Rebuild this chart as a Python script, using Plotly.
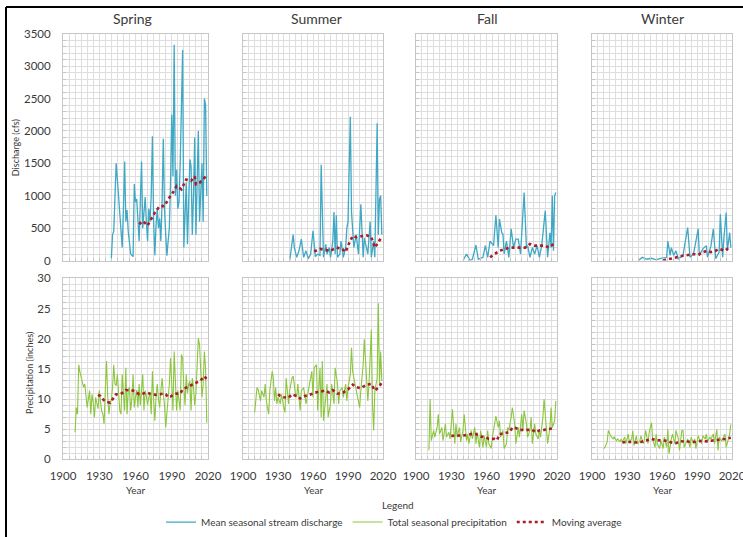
import plotly.graph_objects as go

SEASONS = ["Spring", "Summer", "Fall", "Winter"]
YEAR_TICKS = [1900, 1930, 1960, 1990, 2020]

# ---- Mean seasonal stream discharge (cfs) ----
spring_q_years = list(range(1940, 2020))
spring_q = [30, 400, 450, 1000, 1500, 1250, 1000, 700, 400, 200,
            800, 1530, 600, 780, 450, 250, 100, 80, 60, 1180,
            900, 950, 500, 300, 900, 1530, 500, 700, 980, 600,
            300, 800, 600, 1000, 1920, 600, 80, 550, 800, 500,
            650, 300, 900, 1880, 800, 400, 75, 300, 500, 1200,
            2250, 1300, 3330, 1000, 1400, 800, 900, 1500, 2520, 3250,
            200, 900, 1200, 250, 800, 1560, 1450, 400, 1000, 1900,
            400, 1200, 2000, 600, 1000, 1500, 600, 2500, 2400, 1000]
spring_q_ma_years = [1963, 1966, 1970, 1973, 1976, 1980, 1984, 1987, 1991,
                     1994, 1998, 2002, 2006, 2009, 2010, 2013, 2016, 2019]
spring_q_ma = [560, 610, 540, 640, 740, 840, 840, 945, 1050,
               1150, 1100, 1250, 1230, 1300, 1175, 1200, 1250, 1330]

summer_q_years = [1940, 1943, 1944, 1946, 1948, 1950, 1952, 1954, 1956, 1958,
                  1960, 1962, 1964, 1966, 1967, 1969, 1971, 1972, 1974, 1975,
                  1977, 1978, 1979, 1980, 1981, 1983, 1984, 1986, 1988, 1989,
                  1990, 1992, 1993, 1995, 1997, 1999, 2001, 2003, 2004, 2005,
                  2007, 2009, 2010, 2012, 2013, 2015, 2016, 2017, 2018, 2019]
summer_q = [0, 400, 200, 50, 150, 330, 50, 150, 30, 100,
            460, 60, 100, 80, 1480, 50, 250, 100, 200, 50,
            300, 750, 100, 700, 50, 100, 300, 50, 200, 500,
            600, 2220, 750, 200, 400, 100, 870, 50, 350, 250,
            100, 600, 50, 300, 50, 2120, 400, 950, 1000, 400]
summer_q_ma_years = [1961, 1966, 1975, 1980, 1985, 1988, 1990, 1994,
                     1997, 2001, 2006, 2010, 2013, 2016, 2019]
summer_q_ma = [140, 180, 150, 200, 180, 130, 230, 380,
               360, 370, 390, 360, 200, 280, 370]

fall_q_years = [1940, 1943, 1946, 1948, 1951, 1953, 1957, 1959, 1961, 1963,
                1966, 1968, 1970, 1971, 1973, 1974, 1975, 1977, 1979, 1981,
                1983, 1985, 1987, 1989, 1992, 1994, 1995, 1997, 1999, 2001,
                2003, 2005, 2007, 2010, 2012, 2014, 2015, 2016, 2017, 2018, 2019]
fall_q = [0, 100, 0, 20, 240, 20, 50, 230, 50, 300,
          230, 700, 200, 640, 430, 410, 100, 300, 50, 490,
          200, 330, 330, 100, 1050, 200, 230, 50, 200, 100,
          230, 50, 230, 770, 50, 430, 200, 1000, 150, 1000, 1050]
fall_q_ma_years = [1963, 1967, 1971, 1976, 1980, 1984, 1988, 1993,
                   1997, 2001, 2005, 2010, 2013, 2017, 2019]
fall_q_ma = [50, 100, 150, 180, 200, 200, 200, 200,
             255, 230, 230, 230, 200, 255, 280]

winter_q_years = [1940, 1943, 1947, 1951, 1955, 1958, 1964, 1965, 1967, 1968,
                  1970, 1972, 1974, 1978, 1982, 1984, 1987, 1991, 1992, 1995,
                  1998, 1999, 2002, 2004, 2006, 2009, 2010, 2012, 2013, 2015,
                  2016, 2018, 2019]
winter_q = [0, 50, 20, 35, 10, 30, 50, 300, 80, 200,
            80, 150, 25, 80, 510, 50, 100, 490, 80, 180,
            230, 50, 230, 490, 30, 130, 715, 50, 330, 740,
            150, 430, 200]
winter_q_ma_years = [1961, 1964, 1968, 1972, 1978, 1982, 1987, 1991,
                     1995, 1999, 2002, 2006, 2009, 2014, 2016, 2019]
winter_q_ma = [0, 15, 35, 50, 75, 85, 100, 85,
               130, 150, 130, 150, 180, 150, 180, 200]

# ---- Total seasonal precipitation (inches) ----
spring_p_years = list(range(1910, 2020))
spring_p = [4.5, 8.6, 7.5, 15.7, 14.5, 13.5, 12.5, 12.0, 12.5, 10.8,
            8.6, 10.0, 11.4, 7.5, 10.8, 9.5, 7.0, 10.3, 9.0, 8.4,
            11.4, 9.0, 8.0, 7.5, 5.9, 11.4, 16.3, 10.5, 7.5, 9.5,
            9.8, 11.9, 15.7, 12.5, 12.2, 14.1, 11.0, 8.1, 7.5, 14.1,
            11.0, 8.1, 15.2, 7.5, 11.4, 12.0, 8.1, 10.0, 14.1, 8.6,
            10.3, 11.5, 8.6, 12.5, 9.0, 11.0, 14.1, 8.1, 11.4, 10.5,
            9.0, 10.3, 11.0, 7.5, 14.6, 10.0, 6.4, 10.3, 12.5, 10.0,
            8.6, 11.4, 13.5, 11.0, 9.0, 5.3, 7.5, 9.5, 12.5, 16.8,
            11.5, 8.1, 17.9, 11.4, 8.1, 11.4, 9.5, 8.1, 17.4, 16.8,
            12.0, 9.0, 14.1, 11.0, 12.5, 13.0, 8.1, 13.5, 12.0, 9.0,
            11.0, 16.3, 20.1, 19.0, 14.0, 10.3, 12.5, 17.9, 15.0, 6.1]
spring_p_ma_years = [1929, 1931, 1933, 1935, 1939, 1941, 1944, 1947, 1950, 1952,
                     1955, 1958, 1961, 1963, 1966, 1969, 1972, 1975, 1977, 1980,
                     1983, 1985, 1987, 1989, 1991, 1994, 1997, 1999, 2002, 2005,
                     2008, 2010, 2013, 2016, 2017, 2019]
spring_p_ma = [10.7, 10.5, 10.0, 9.6, 9.4, 10.0, 10.8, 10.8, 11.1, 11.5,
               11.5, 11.4, 11.1, 10.8, 10.9, 11.1, 10.9, 10.8, 10.7, 10.8,
               10.9, 10.8, 10.3, 10.4, 10.7, 10.9, 10.9, 11.6, 11.9, 12.2,
               12.5, 12.7, 13.0, 13.5, 13.8, 13.3]

summer_p_years = [1910, 1912, 1913, 1915, 1916, 1918, 1919, 1920, 1922, 1923,
                  1925, 1926, 1927, 1928, 1929, 1930, 1932, 1933, 1935, 1936,
                  1937, 1939, 1940, 1942, 1943, 1945, 1946, 1947, 1949, 1950,
                  1952, 1953, 1954, 1956, 1957, 1959, 1960, 1961, 1963, 1964,
                  1966, 1967, 1968, 1969, 1971, 1972, 1973, 1975, 1976, 1978,
                  1979, 1981, 1982, 1983, 1985, 1986, 1988, 1989, 1990, 1992,
                  1993, 1994, 1996, 1997, 1998, 2000, 2001, 2003, 2004, 2006,
                  2007, 2008, 2010, 2011, 2012, 2013, 2015, 2016, 2017, 2018, 2019]
summer_p = [7.8, 11.9, 11.6, 9.7, 11.4, 10.3, 12.5, 9.7, 7.5, 11.4,
            14.6, 13.5, 9.7, 11.9, 9.2, 10.3, 9.2, 10.8, 8.6, 7.8,
            13.5, 9.2, 11.4, 13.5, 13.8, 10.8, 10.3, 12.5, 8.1, 11.4,
            11.9, 10.3, 9.2, 11.4, 12.5, 14.6, 10.3, 15.2, 15.7, 8.1,
            15.2, 7.0, 16.3, 6.4, 10.3, 12.5, 7.0, 9.2, 12.5, 9.2,
            15.2, 12.5, 9.2, 11.4, 11.9, 10.3, 12.5, 9.7, 11.9, 14.1,
            18.5, 14.6, 12.5, 11.4, 10.3, 8.6, 11.4, 15.7, 19.9, 12.7,
            9.7, 12.5, 21.5, 9.2, 4.8, 11.4, 13.5, 25.9, 12.5, 17.9, 13.0]
summer_p_ma_years = [1930, 1932, 1935, 1939, 1942, 1946, 1949, 1953, 1957, 1962,
                     1966, 1970, 1974, 1977, 1981, 1986, 1990, 1994, 1997, 2001,
                     2006, 2010, 2013, 2016, 2019]
summer_p_ma = [10.8, 10.5, 10.3, 10.2, 10.8, 10.5, 10.1, 10.5, 10.7, 11.1,
               11.2, 11.4, 11.1, 11.5, 10.9, 11.1, 11.6, 12.4, 12.0, 11.8,
               12.4, 12.5, 11.4, 11.9, 12.7]

fall_p_years = [1911, 1912, 1913, 1915, 1916, 1918, 1919, 1920, 1922, 1923,
                1925, 1926, 1928, 1929, 1931, 1933, 1934, 1935, 1937, 1938,
                1940, 1941, 1943, 1944, 1945, 1947, 1948, 1950, 1951, 1952,
                1954, 1955, 1957, 1958, 1960, 1961, 1962, 1964, 1965, 1967,
                1968, 1970, 1971, 1972, 1974, 1975, 1977, 1978, 1979, 1981,
                1982, 1984, 1985, 1987, 1988, 1990, 1991, 1992, 1994, 1995,
                1997, 1998, 1999, 2001, 2002, 2004, 2005, 2006, 2008, 2009,
                2011, 2012, 2014, 2015, 2016, 2018, 2019]
fall_p = [1.5, 10.0, 3.1, 4.8, 3.7, 5.3, 7.5, 4.2, 5.3, 3.1,
          5.9, 3.7, 4.5, 3.4, 8.3, 2.6, 5.9, 3.7, 5.3, 2.9,
          4.8, 7.5, 3.1, 4.2, 2.6, 4.8, 3.4, 5.3, 2.6, 4.5,
          2.0, 4.8, 2.0, 3.9, 2.0, 4.8, 2.6, 1.8, 3.7, 5.9,
          7.2, 5.3, 6.4, 3.7, 4.8, 1.8, 2.6, 5.3, 4.8, 7.0,
          8.6, 5.9, 2.6, 5.3, 3.7, 7.5, 4.8, 8.1, 5.9, 3.7,
          4.8, 7.0, 2.6, 5.9, 4.2, 3.4, 4.8, 3.7, 7.0, 10.0,
          5.3, 2.6, 5.3, 8.6, 5.3, 6.4, 9.7]
fall_p_ma_years = [1930, 1934, 1938, 1943, 1947, 1951, 1955, 1959, 1962, 1967,
                   1969, 1971, 1975, 1980, 1982, 1985, 1988, 1992, 1995, 1999,
                   2002, 2005, 2009, 2014, 2018]
fall_p_ma = [3.9, 3.9, 4.0, 4.0, 4.2, 4.2, 3.8, 3.7, 3.4, 3.4,
             3.2, 4.2, 4.3, 4.6, 5.3, 5.2, 4.9, 4.9, 5.0, 4.9,
             4.5, 4.8, 4.9, 5.0, 5.2]

winter_p_years = [1910, 1911, 1913, 1914, 1916, 1918, 1919, 1921, 1922, 1924,
                  1925, 1926, 1928, 1929, 1931, 1932, 1934, 1935, 1936, 1938,
                  1939, 1941, 1942, 1944, 1945, 1946, 1948, 1949, 1951, 1952,
                  1954, 1955, 1956, 1958, 1959, 1961, 1962, 1964, 1965, 1966,
                  1968, 1969, 1971, 1972, 1974, 1975, 1977, 1978, 1979, 1981,
                  1982, 1984, 1985, 1987, 1988, 1989, 1991, 1992, 1994, 1995,
                  1997, 1998, 1999, 2001, 2002, 2004, 2005, 2007, 2008, 2009,
                  2011, 2012, 2014, 2015, 2017, 2018, 2019]
winter_p = [1.8, 2.0, 2.9, 4.8, 3.9, 3.4, 3.7, 3.1, 3.4, 2.9,
            3.4, 2.9, 3.7, 2.6, 4.2, 2.9, 3.4, 4.8, 2.3, 3.9,
            2.6, 3.1, 3.9, 2.6, 3.4, 4.8, 2.6, 4.5, 6.1, 3.4,
            2.0, 4.2, 2.6, 1.8, 3.1, 1.8, 3.7, 2.0, 5.0, 0.9,
            3.4, 4.2, 2.6, 4.8, 3.4, 1.5, 4.8, 4.8, 2.0, 3.1,
            3.4, 2.0, 3.7, 2.6, 3.4, 1.8, 3.9, 3.4, 2.6, 3.9,
            3.4, 4.2, 2.9, 3.7, 3.4, 4.2, 2.6, 5.0, 1.5, 3.7,
            3.1, 3.4, 4.2, 2.0, 3.4, 4.2, 5.8]
winter_p_ma_years = [1926, 1929, 1934, 1938, 1942, 1946, 1951, 1955, 1959, 1964,
                     1968, 1972, 1976, 1981, 1985, 1989, 1994, 1998, 2002, 2007,
                     2011, 2015, 2019]
winter_p_ma = [2.8, 2.9, 2.9, 2.8, 2.9, 3.1, 3.4, 3.2, 3.1, 3.1,
               2.8, 2.7, 3.0, 3.0, 2.9, 2.9, 3.1, 3.0, 3.1, 3.2,
               3.3, 3.4, 3.6]

discharge = [
    (spring_q_years, spring_q, spring_q_ma_years, spring_q_ma),
    (summer_q_years, summer_q, summer_q_ma_years, summer_q_ma),
    (fall_q_years, fall_q, fall_q_ma_years, fall_q_ma),
    (winter_q_years, winter_q, winter_q_ma_years, winter_q_ma),
]
precip = [
    (spring_p_years, spring_p, spring_p_ma_years, spring_p_ma),
    (summer_p_years, summer_p, summer_p_ma_years, summer_p_ma),
    (fall_p_years, fall_p, fall_p_ma_years, fall_p_ma),
    (winter_p_years, winter_p, winter_p_ma_years, winter_p_ma),
]

BLUE = "#3fa8c4"
GREEN = "#8cc63e"
RED = "#a81e2d"
GRID = "#dedede"
FRAME = "#c6c6c6"
TEXT = "#3a3a3a"
FONT = "Lato"

W, H = 743, 537
# panel pixel boxes: (left, right) per column; (top, bottom) per row
cols_px = [(63, 208), (243, 383), (416, 557), (592, 732)]
rows_px = [(34, 262), (280, 462)]


def px_x(v):
    return v / W


def px_y(v):
    return 1 - v / H


fig = go.Figure()
layout = {}

year_grid = list(range(1900, 2021, 5))
year_text = [str(y) if y in YEAR_TICKS else "" for y in year_grid]
q_grid = list(range(0, 3501, 100))
q_text = [str(v) if v % 500 == 0 else "" for v in q_grid]
p_grid = list(range(0, 31, 1))
p_text = [str(v) if v % 5 == 0 else "" for v in p_grid]

for r in range(2):
    for c in range(4):
        idx = r * 4 + c + 1
        xa = "x" if idx == 1 else f"x{idx}"
        ya = "y" if idx == 1 else f"y{idx}"
        xkey = "xaxis" if idx == 1 else f"xaxis{idx}"
        ykey = "yaxis" if idx == 1 else f"yaxis{idx}"
        left, right = cols_px[c]
        top, bottom = rows_px[r]

        if r == 0:
            yrs, vals, ma_yrs, ma_vals = discharge[c]
            color = BLUE
            name = "Mean seasonal stream discharge"
            width = 1.3
        else:
            yrs, vals, ma_yrs, ma_vals = precip[c]
            color = GREEN
            name = "Total seasonal precipitation"
            width = 1.1

        fig.add_trace(go.Scatter(
            x=yrs, y=vals, mode="lines", name=name,
            line=dict(color=color, width=width),
            xaxis=xa, yaxis=ya, showlegend=(c == 0),
            legendrank=1 if r == 0 else 2,
        ))
        fig.add_trace(go.Scatter(
            x=ma_yrs, y=ma_vals, mode="lines", name="Moving average",
            line=dict(color=RED, width=2.6, dash="dot"),
            xaxis=xa, yaxis=ya, showlegend=(r == 1 and c == 0),
            legendrank=3,
        ))

        layout[xkey] = dict(
            domain=[px_x(left), px_x(right)], anchor=ya, automargin=False,
            range=[1900, 2020], tickmode="array", tickvals=year_grid,
            ticktext=year_text if r == 1 else [""] * len(year_grid),
            showgrid=True, gridcolor=GRID, gridwidth=0.7,
            showline=True, linecolor=FRAME, linewidth=1, mirror=True,
            ticks="inside", ticklen=3, tickcolor=FRAME,
            ticklabelstandoff=6, ticklabeloverflow="allow",
            zeroline=False, fixedrange=True,
            tickfont=dict(family=FONT, size=11.5, color=TEXT),
        )
        if r == 0:
            grid, text, rng = q_grid, q_text, [0, 3500]
        else:
            grid, text, rng = p_grid, p_text, [0, 30]
        layout[ykey] = dict(
            domain=[px_y(bottom), px_y(top)], anchor=xa, automargin=False,
            range=rng, tickmode="array", tickvals=grid,
            ticktext=text if c == 0 else [""] * len(grid),
            showgrid=True, gridcolor=GRID, gridwidth=0.7,
            showline=True, linecolor=FRAME, linewidth=1, mirror=True,
            ticks="inside", ticklen=3, tickcolor=FRAME,
            ticklabelstandoff=9,
            zeroline=False, fixedrange=True,
            tickfont=dict(family=FONT, size=11.5, color=TEXT),
        )

annotations = []
title_x = [132, 316, 487, 662]
for c, season in enumerate(SEASONS):
    annotations.append(dict(
        text=season, x=px_x(title_x[c]), y=px_y(19), xref="paper", yref="paper",
        showarrow=False, font=dict(family=FONT, size=14, color=TEXT),
        xanchor="center", yanchor="middle",
    ))
    annotations.append(dict(
        text="Year", x=px_x((cols_px[c][0] + cols_px[c][1]) / 2), y=px_y(493),
        xref="paper", yref="paper", showarrow=False,
        font=dict(family=FONT, size=10, color=TEXT),
        xanchor="center", yanchor="middle",
    ))

annotations.append(dict(
    text="Discharge (cfs)", x=px_x(15), y=px_y(148), xref="paper", yref="paper",
    showarrow=False, textangle=-90, font=dict(family=FONT, size=9, color=TEXT),
    xanchor="center", yanchor="middle",
))
annotations.append(dict(
    text="Precipitation (inches)", x=px_x(30), y=px_y(375), xref="paper", yref="paper",
    showarrow=False, textangle=-90, font=dict(family=FONT, size=9, color=TEXT),
    xanchor="center", yanchor="middle",
))
annotations.append(dict(
    text="Legend", x=px_x(398), y=px_y(508), xref="paper", yref="paper",
    showarrow=False, font=dict(family=FONT, size=10, color=TEXT),
    xanchor="center", yanchor="middle",
))

shapes = [
    dict(type="line", xref="paper", yref="paper", x0=px_x(6), x1=px_x(6),
         y0=px_y(7), y1=-0.02, line=dict(color="#000000", width=2)),
    dict(type="line", xref="paper", yref="paper", x0=px_x(6), x1=1.02,
         y0=px_y(7), y1=px_y(7), line=dict(color="#000000", width=2)),
]

fig.update_layout(
    template="none",
    width=W, height=H, autosize=False,
    margin=dict(l=0, r=0, t=0, b=0, pad=0),
    paper_bgcolor="white", plot_bgcolor="white",
    annotations=annotations, shapes=shapes,
    showlegend=True,
    legend=dict(
        orientation="h", x=px_x(394), y=px_y(525), xanchor="center", yanchor="middle",
        font=dict(family=FONT, size=10, color=TEXT), itemwidth=30,
        bgcolor="rgba(0,0,0,0)", traceorder="normal",
    ),
    **layout,
)

fig.write_html("out.html")
